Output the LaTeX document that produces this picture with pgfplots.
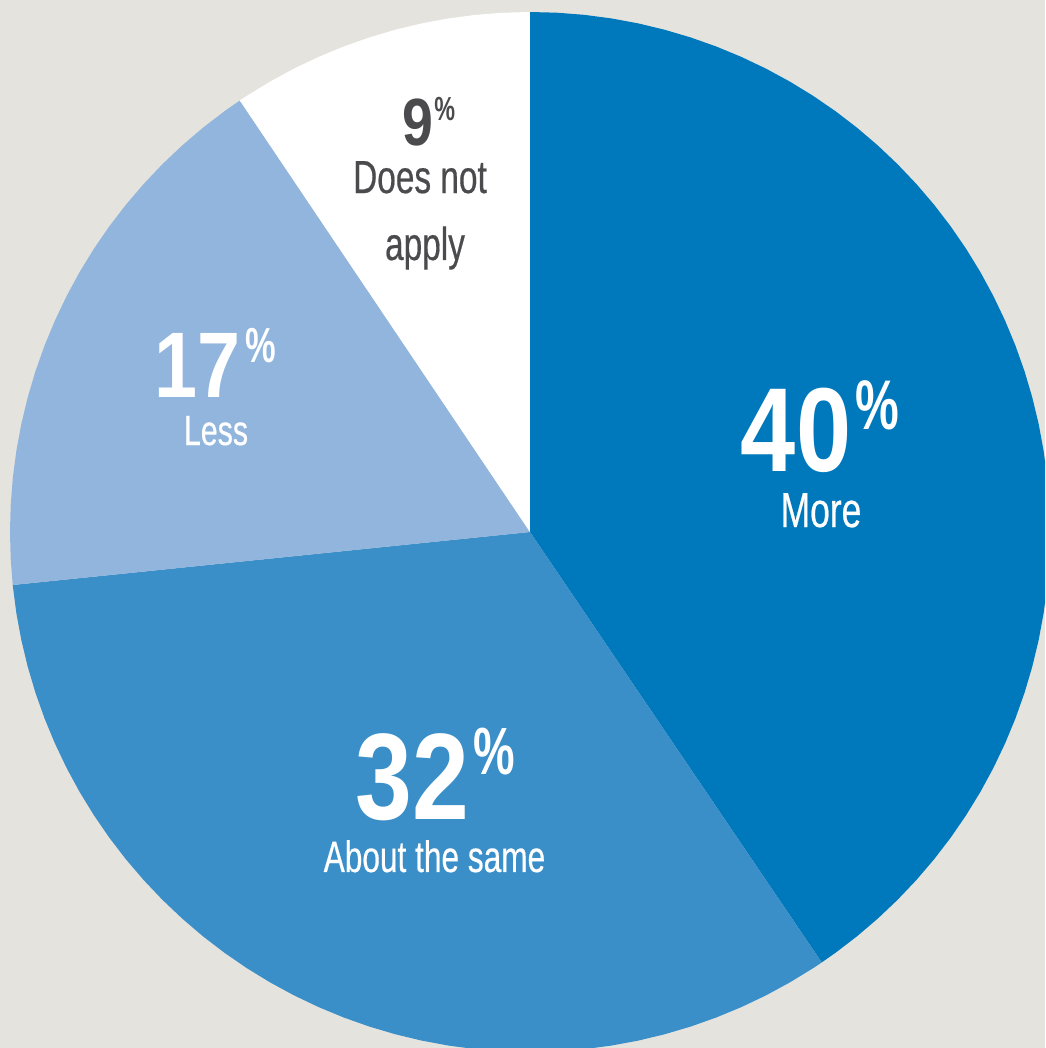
\documentclass[border=0pt]{standalone}
\usepackage{pgfplots}
\pgfplotsset{compat=1.18}
\usepgfplotslibrary{polar}
\usepackage{fontspec}
\setmainfont{Liberation Sans}
\newfontfamily\numfont{Liberation Sans Bold}[FakeStretch=0.83]
\newfontfamily\pctfont{Liberation Sans Bold}[FakeStretch=0.7]
\newfontfamily\labfont{Liberation Sans}[FakeStretch=0.72,FakeBold=0.4]
\definecolor{bgc}{HTML}{E5E3DE}
\definecolor{cmore}{HTML}{0079BC}
\definecolor{cabout}{HTML}{3A8FC8}
\definecolor{cless}{HTML}{91B5DC}
\definecolor{cdna}{HTML}{FFFFFF}
\definecolor{tgray}{HTML}{4B4B4D}
\newcommand{\num}[5]{{\numfont\fontsize{#2}{#2}\selectfont #1}\kern#5\raisebox{#4}{\pctfont\fontsize{#3}{#3}\selectfont\%}}
\begin{document}
\begin{tikzpicture}
\begin{axis}[
  scale only axis, width=10.45cm, height=10.48cm,
  xmin=-1.0192, xmax=0.9904, ymin=-0.9923, ymax=1.0231,
  hide axis, clip=true,
]
\fill[bgc] (rel axis cs:0,0) rectangle (rel axis cs:1,1);
% More 40%
\addplot[data cs=polar, fill=cmore, draw=none] coordinates {
(0,0) (90,1) (87,1) (84,1) (81,1) (78,1) (75,1) (72,1) (69,1) (66,1) (63,1)
(60,1) (57,1) (54,1) (51,1) (48,1) (45,1) (42,1) (39,1) (36,1) (33,1)
(30,1) (27,1) (24,1) (21,1) (18,1) (15,1) (12,1) (9,1) (6,1) (3,1)
(0,1) (-3,1) (-6,1) (-9,1) (-12,1) (-15,1) (-18,1) (-21,1) (-24,1) (-27,1)
(-30,1) (-33,1) (-36,1) (-39,1) (-42,1) (-45,1) (-48,1) (-51,1) (-54,1) (-55.87,1)
};
% About the same 32%
\addplot[data cs=polar, fill=cabout, draw=none] coordinates {
(0,0) (-55.87,1) (-57,1) (-60,1) (-63,1) (-66,1) (-69,1) (-72,1) (-75,1) (-78,1) (-81,1)
(-84,1) (-87,1) (-90,1) (-93,1) (-96,1) (-99,1) (-102,1) (-105,1) (-108,1) (-111,1)
(-114,1) (-117,1) (-120,1) (-123,1) (-126,1) (-129,1) (-132,1) (-135,1) (-138,1)
(-141,1) (-144,1) (-147,1) (-150,1) (-153,1) (-156,1) (-159,1) (-162,1) (-165,1)
(-168,1) (-171,1) (-174.15,1)
};
% Less 17%
\addplot[data cs=polar, fill=cless, draw=none] coordinates {
(0,0) (-174.15,1) (-177,1) (-180,1) (-183,1) (-186,1) (-189,1) (-192,1) (-195,1)
(-198,1) (-201,1) (-204,1) (-207,1) (-210,1) (-213,1) (-216,1) (-219,1) (-222,1)
(-225,1) (-228,1) (-231,1) (-234,1) (-236.08,1)
};
% Does not apply 9%
\addplot[data cs=polar, fill=cdna, draw=none] coordinates {
(0,0) (-236.08,1) (-237,1) (-240,1) (-243,1) (-246,1) (-249,1) (-252,1) (-255,1) (-258,1)
(-261,1) (-264,1) (-267,1) (-270,1)
};
% labels
\node[anchor=base, inner sep=0, text=white] at (axis cs:0.5577,0.1154) {\num{40}{34}{20}{12pt}{1.2pt}};
\node[anchor=base, inner sep=0, text=white] at (axis cs:0.5596,0.0096) {\labfont\fontsize{14}{14}\selectfont More};
\node[anchor=base, inner sep=0, text=white] at (axis cs:-0.1827,-0.5538) {\num{32}{35}{19}{12.8pt}{1.2pt}};
\node[anchor=base, inner sep=0, text=white] at (axis cs:-0.1837,-0.6538) {\labfont\fontsize{12.5}{12.5}\selectfont About the same};
\node[anchor=base, inner sep=0, text=white] at (axis cs:-0.6058,0.2577) {\num{17}{26.5}{14}{10pt}{1.4pt}};
\node[anchor=base, inner sep=0, text=white] at (axis cs:-0.6038,0.1673) {\labfont\fontsize{12}{12}\selectfont Less};
\node[anchor=base, inner sep=0, text=tgray] at (axis cs:-0.1942,0.7442) {\num{9}{19}{9.5}{7pt}{0.2pt}};
\node[anchor=base, inner sep=0, text=tgray] at (axis cs:-0.2115,0.6519) {\labfont\fontsize{13.2}{13.2}\selectfont Does not};
\node[anchor=base, inner sep=0, text=tgray] at (axis cs:-0.2019,0.5231) {\labfont\fontsize{13.2}{13.2}\selectfont apply};
\end{axis}
\pgfresetboundingbox
\useasboundingbox (current axis.south west) rectangle (current axis.north east);
\end{tikzpicture}
\end{document}
